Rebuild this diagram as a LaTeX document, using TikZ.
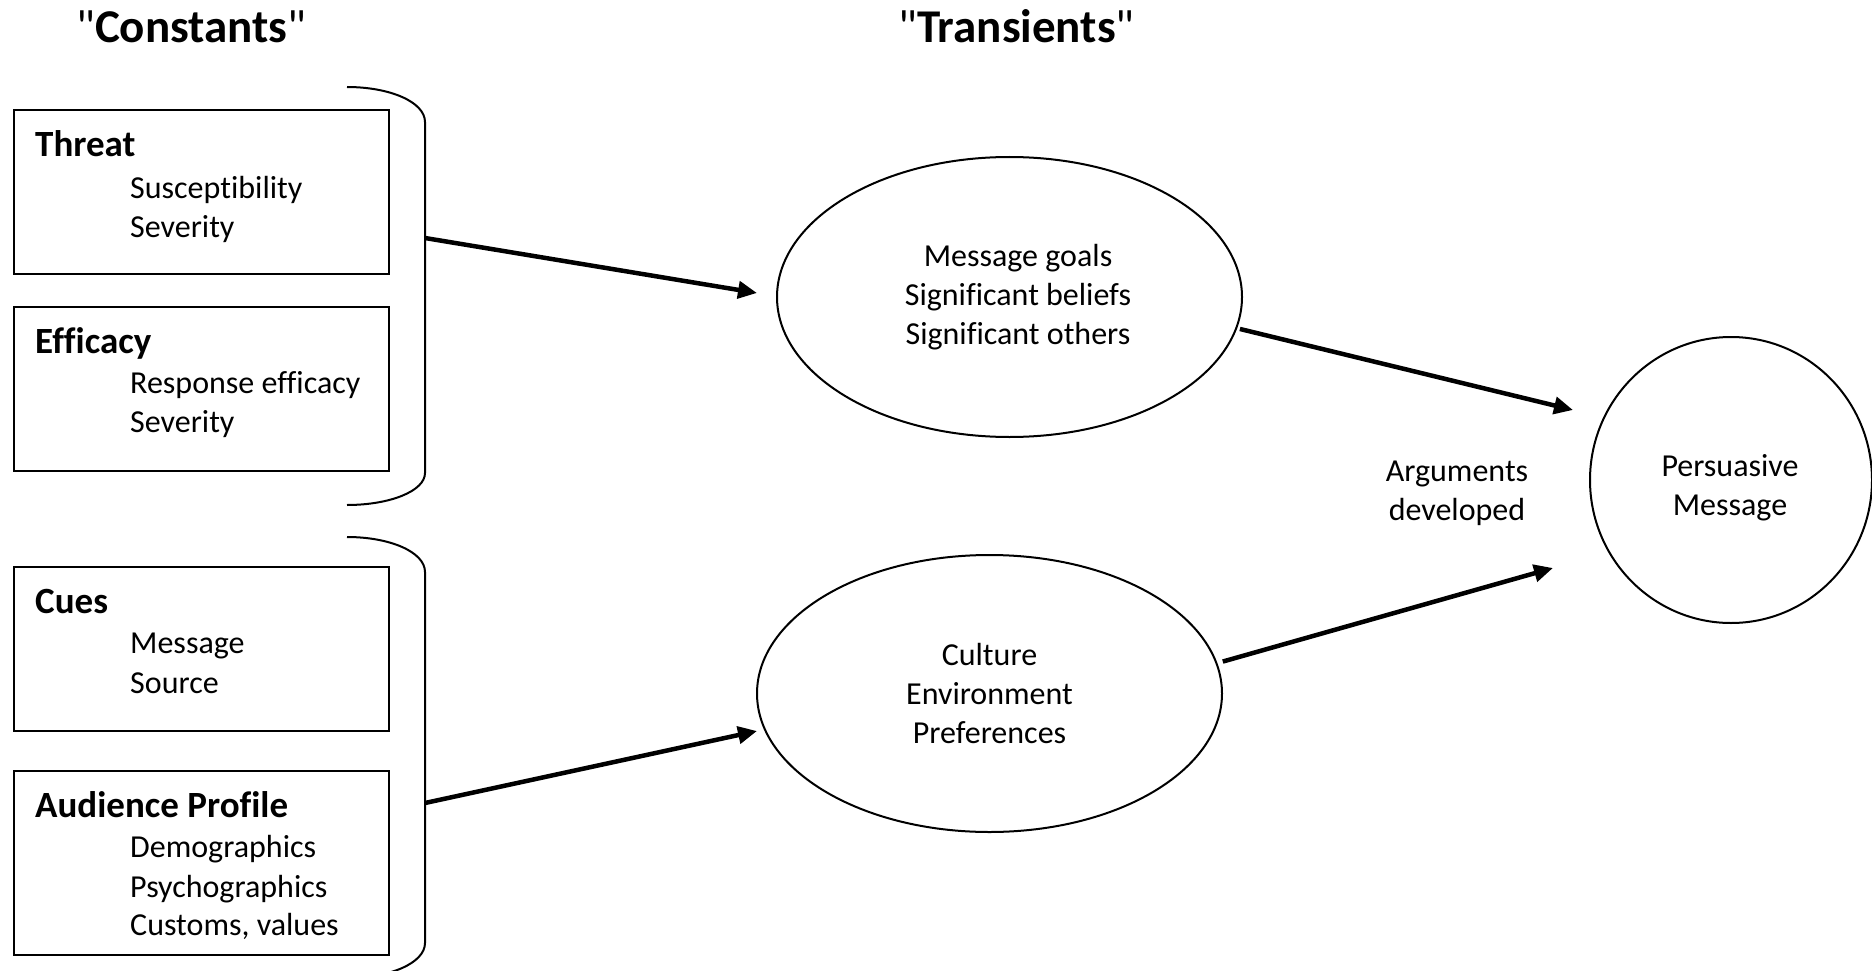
\documentclass[tikz,border=0pt]{standalone}
\usepackage{fontspec}
\setmainfont{Carlito}[Ligatures={NoCommon,TeXOff}]
\usetikzlibrary{shapes.geometric,arrows.meta}
\begin{document}
\begin{tikzpicture}[x=1pt,y=-1pt,
  box/.style={draw,line width=2pt,rectangle,minimum width=375pt,inner sep=0pt},
  oval/.style={draw,line width=2pt,ellipse,inner sep=0pt,align=center,
    font=\fontsize{32}{39}\selectfont},
  body/.style={font=\fontsize{32}{39}\selectfont,anchor=base west,inner sep=0pt},
  title/.style={font=\fontsize{37}{44}\selectfont\bfseries,anchor=base west,inner sep=0pt},
  header/.style={font=\fontsize{47}{56}\selectfont,anchor=base west,inner sep=0pt},
  plain/.style={font=\fontsize{32}{39}\selectfont,align=center,inner sep=0pt},
  brace/.style={draw,line width=2pt},
  arr/.style={line width=4.5pt,-{Triangle[length=19pt,width=17pt]}}
]
\useasboundingbox (0,0) rectangle (1872,971);

% headers
\node[header] (hconst) at (76,43) {"\textbf{Constants}"};
\node[header] (htrans) at (898,43) {"\textbf{Transients}"};

% boxes
\node[box,minimum height=164pt] (threat) at (201.5,192) {};
\node[box,minimum height=164pt] (efficacy) at (201.5,389) {};
\node[box,minimum height=164pt] (cues) at (201.5,649) {};
\node[box,minimum height=184pt] (audience) at (201.5,863) {};

\node[title] (t1) at (35,157) {Threat};
\node[body] (t1a) at (130,198) {Susceptibility};
\node[body] (t1b) at (130,237) {Severity};

\node[title] (t2) at (35,353) {Efficacy};
\node[body] (t2a) at (130,393) {Response efficacy};
\node[body] (t2b) at (130,432) {Severity};

\node[title] (t3) at (35,613) {Cues};
\node[body] (t3a) at (130,653) {Message};
\node[body] (t3b) at (130,693) {Source};

\node[title] (t4) at (35,817) {Audience Profile};
\node[body] (t4a) at (130,857) {Demographics};
\node[body] (t4b) at (130,897) {Psychographics};
\node[body] (t4c) at (130,935) {Customs, values};

% braces
\draw[brace] (347,87) .. controls (390,87) and (425,102) .. (425,122)
  -- (425,473) .. controls (425,491) and (390,505) .. (347,505);
\draw[brace] (347,537) .. controls (390,537) and (425,552) .. (425,572)
  -- (425,943) .. controls (425,963) and (390,978) .. (347,978);
\coordinate (b1) at (425,238);
\coordinate (b2) at (425,803);

% ellipses
\node[oval,minimum width=465pt,minimum height=280pt] (e1) at (1009.5,297) {};
\node[plain] (e1text) at (1018,297)
  {Message goals\\Significant beliefs\\Significant others};
\node[oval,minimum width=465pt,minimum height=277pt] (e2) at (989.5,693.5)
  {Culture\\Environment\\Preferences};

% persuasive message
\node[draw,line width=2pt,ellipse,inner sep=0pt,minimum width=282pt,minimum height=286pt] (pm) at (1731,480) {};
\node[plain] (pmtext) at (1730,488) {Persuasive\\Message};

\node[plain] (argtext) at (1457,493) {Arguments\\developed};

% arrow tips
\coordinate (a1) at (757,293);
\coordinate (a2) at (757,731);
\coordinate (a3) at (1573,410);
\coordinate (a4) at (1553,568);

\draw[arr] (b1) -- (a1);
\draw[arr] (b2) -- (a2);
\draw[arr] ([xshift=3pt]e1.-8) -- (a3);
\draw[arr] ([xshift=6pt]e2.8) -- (a4);
\end{tikzpicture}
\end{document}
